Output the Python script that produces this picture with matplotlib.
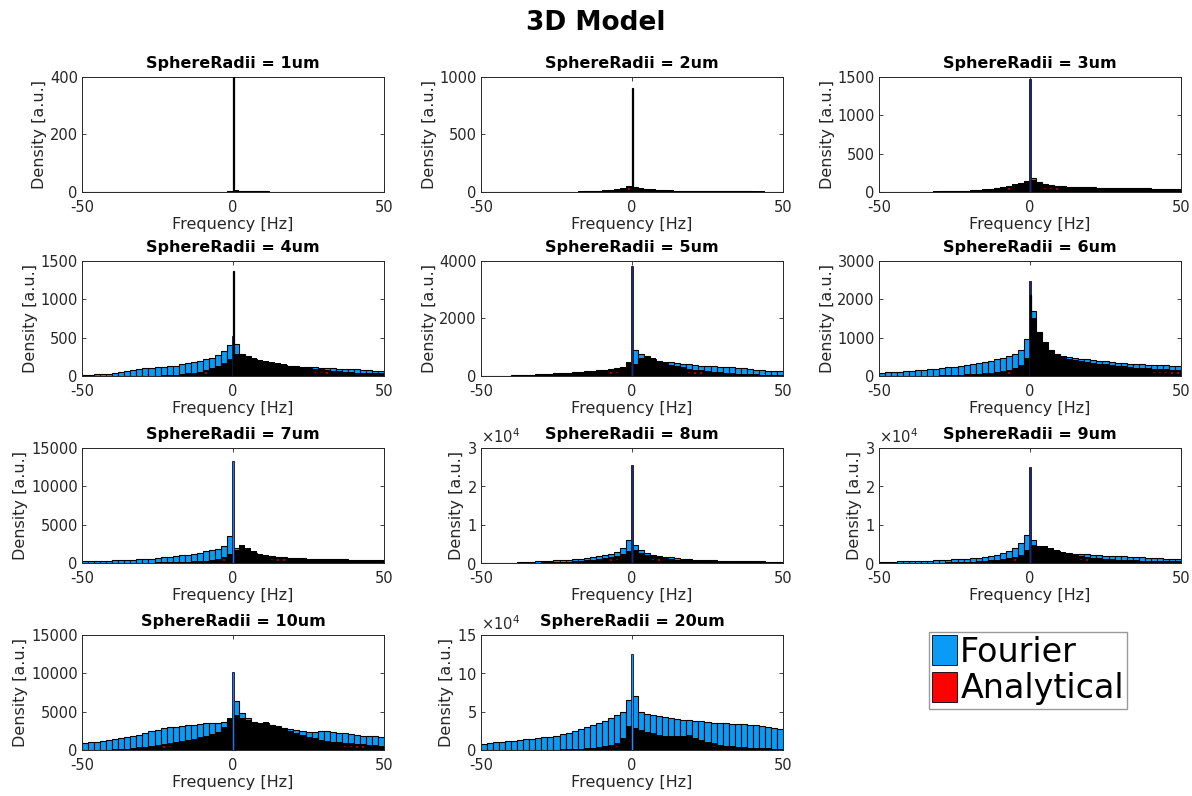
import numpy as np
import matplotlib
matplotlib.use('Agg')
import matplotlib.pyplot as plt
from matplotlib.patches import Patch

# bin centres, 2 Hz wide, from -50 to 50 Hz
centers = np.arange(-49, 50, 2)

radii = ['1um', '2um', '3um', '4um', '5um', '6um', '7um', '8um', '9um', '10um', '20um']
ymax = [400, 1000, 1500, 1500, 4000, 3000, 15000, 30000, 30000, 15000, 150000]
ystep = [200, 500, 500, 500, 2000, 1000, 5000, 10000, 10000, 5000, 50000]

# Fourier histograms (left half -49..-1, right half 1..49)
f1 = [0]*22 + [0, 0, 3] + [5, 4, 3, 3, 2, 2] + [0]*19
f2 = [0]*16 + [3, 5, 7, 9, 12, 16, 20, 28, 40] + \
     [40, 30, 24, 19, 15, 13, 11, 10, 9, 8, 8, 9, 8, 7, 7, 6, 6, 5, 5, 5, 4, 4, 2, 0, 0]
f3 = [2, 2, 2, 2, 3, 3, 4, 4, 5, 6, 7, 8, 10, 12, 15, 20, 25, 32, 40, 50, 60, 75, 95, 115, 140] + \
     [180, 130, 100, 90, 80, 75, 70, 68, 65, 62, 60, 58, 56, 55, 54, 52, 50, 50, 48, 46, 45, 44, 42, 40, 38]
f4 = [15, 18, 20, 25, 30, 40, 50, 60, 75, 90, 100, 110, 115, 120, 128, 135, 150, 165, 180, 195, 215, 240, 275, 320, 400] + \
     [420, 290, 255, 225, 200, 185, 170, 160, 148, 135, 128, 120, 115, 112, 110, 105, 100, 95, 92, 90, 85, 80, 75, 65, 60]
f5 = [0, 0, 0, 0, 10, 30, 35, 40, 45, 55, 65, 75, 90, 100, 120, 135, 150, 165, 180, 200, 220, 245, 270, 320, 420] + \
     [900, 760, 680, 600, 530, 500, 470, 450, 430, 400, 380, 360, 350, 340, 330, 320, 310, 295, 270, 240, 220, 200, 190, 180, 175]
f6 = [90, 95, 100, 110, 125, 135, 150, 165, 180, 195, 210, 230, 245, 265, 280, 300, 330, 360, 390, 430, 470, 510, 560, 680, 950] + \
     [1700, 1150, 880, 680, 580, 530, 490, 465, 445, 430, 415, 400, 385, 370, 345, 330, 320, 310, 300, 290, 285, 280, 275, 270, 265]
f7 = [200, 230, 260, 280, 300, 330, 360, 390, 420, 460, 520, 580, 650, 720, 790, 880, 980, 1090, 1200, 1300, 1500, 1700, 1880, 2150, 3500] + \
     [2000, 1900, 1600, 1300, 1100, 950, 850, 780, 720, 660, 620, 590, 570, 550, 540, 520, 500, 480, 460, 440, 420, 400, 380, 360, 350]
f8 = [0, 0, 0, 0, 0, 0, 150, 200, 300, 400, 500, 600, 700, 800, 900, 1000, 1150, 1300, 1500, 1700, 2000, 2400, 2900, 3800, 6000] + \
     [4600, 3400, 2500, 2100, 1800, 1650, 1450, 1300, 1150, 1000, 900, 820, 750, 690, 630, 590, 550, 510, 480, 450, 420, 400, 380, 360, 350]
f9 = [250, 300, 350, 400, 440, 480, 530, 580, 630, 680, 750, 830, 920, 1020, 1120, 1250, 1400, 1580, 1800, 2100, 2600, 3100, 3800, 5100, 7200] + \
     [6000, 4400, 4000, 3500, 3000, 2700, 2550, 2450, 2350, 2250, 2150, 2050, 1950, 1850, 1760, 1700, 1620, 1550, 1480, 1400, 1320, 1250, 1170, 1100, 1050]
f10 = [950, 1000, 1070, 1180, 1300, 1420, 1520, 1630, 1800, 2000, 2250, 2450, 2650, 2800, 2950, 3050, 3150, 3220, 3300, 3400, 3450, 3500, 3520, 3600, 4000] + \
      [6400, 4800, 4100, 3700, 3500, 3500, 3300, 3100, 2900, 2750, 2650, 2500, 2400, 2400, 2450, 2420, 2350, 2250, 2150, 2050, 1950, 1880, 1820, 1760, 1700]
f20 = [7800, 8500, 10000, 11000, 11800, 12300, 13000, 13700, 14500, 15500, 16500, 17500, 18500, 20500, 22500, 24500, 27500, 30500, 33000, 35500, 38000, 41000, 45000, 50000, 65000] + \
      [70000, 50000, 47000, 45500, 44000, 43000, 41500, 40500, 39500, 38800, 38000, 37200, 36400, 35700, 35200, 34800, 34400, 34200, 33800, 33000, 32000, 31000, 30000, 28500, 27000]

# Analytical histograms
a1 = [0]*23 + [1, 5] + [8, 5, 4, 4, 3, 3, 1, 0, 1, 0, 0, 0, 0, 0, 1] + [0]*10
a2 = [0, 0, 0, 0, 0, 0, 0, 0, 0, 0, 2, 0, 0, 0, 3, 4, 5, 8, 10, 12, 15, 20, 25, 35, 50] + \
     [45, 35, 28, 22, 18, 15, 13, 12, 10, 10, 9, 12, 10, 8, 8, 7, 7, 6, 6, 6, 5, 5, 2, 0, 0]
a3 = [3, 3, 3, 3, 4, 4, 5, 5, 6, 7, 8, 10, 12, 15, 18, 22, 28, 35, 42, 55, 65, 80, 100, 120, 145] + \
     [150, 115, 95, 85, 75, 70, 65, 60, 55, 52, 50, 48, 46, 45, 44, 42, 42, 40, 40, 38, 38, 36, 35, 32, 30]
a4 = [0, 0, 0, 0, 0, 0, 0, 0, 0, 0, 2, 3, 5, 8, 12, 18, 25, 35, 45, 55, 75, 100, 125, 170, 220] + \
     [280, 270, 250, 230, 205, 190, 178, 168, 150, 135, 125, 115, 105, 95, 85, 78, 70, 62, 55, 50, 45, 42, 40, 38, 35]
a5 = [0, 0, 0, 0, 0, 15, 20, 25, 30, 35, 45, 55, 65, 75, 85, 100, 115, 130, 145, 165, 185, 210, 250, 320, 480] + \
     [420, 620, 670, 610, 520, 450, 390, 340, 300, 260, 225, 200, 175, 150, 125, 110, 95, 85, 75, 65, 58, 50, 45, 40, 35]
a6 = [0, 0, 0, 0, 0, 0, 0, 5, 8, 10, 15, 20, 25, 30, 40, 50, 60, 75, 90, 105, 125, 160, 200, 290, 470] + \
     [1500, 1130, 860, 660, 540, 490, 450, 420, 390, 360, 340, 320, 300, 280, 265, 250, 235, 220, 210, 200, 195, 185, 175, 165, 160]
a7 = [0, 0, 0, 0, 0, 0, 0, 20, 30, 40, 50, 60, 70, 90, 110, 130, 160, 190, 220, 250, 320, 420, 570, 800, 1200] + \
     [1700, 2400, 1950, 1500, 1200, 1000, 880, 790, 720, 660, 610, 560, 520, 480, 450, 420, 390, 360, 340, 310, 300, 290, 280, 270, 260]
a8 = [0, 0, 0, 0, 0, 0, 0, 50, 80, 120, 160, 200, 250, 300, 380, 450, 550, 700, 850, 1050, 1250, 1500, 1800, 2300, 3200] + \
     [3400, 2700, 2100, 1700, 1450, 1250, 1050, 900, 800, 720, 650, 580, 520, 460, 400, 350, 320, 290, 260, 240, 220, 200, 190, 180, 175]
a9 = [0, 0, 0, 0, 0, 20, 40, 60, 80, 100, 130, 160, 200, 250, 300, 380, 480, 600, 720, 850, 1050, 1300, 1600, 2200, 3300] + \
     [4600, 4400, 4350, 4000, 3400, 2800, 2350, 2000, 1750, 1550, 1350, 1200, 1080, 980, 900, 820, 750, 680, 620, 570, 520, 490, 470, 450, 440]
a10 = [5, 10, 20, 30, 50, 80, 120, 170, 250, 350, 450, 550, 650, 750, 850, 1000, 1150, 1300, 1450, 1650, 1850, 2100, 2400, 3000, 4200] + \
      [4500, 4200, 3900, 3700, 3550, 3600, 3300, 3000, 2750, 2500, 2250, 2000, 1750, 1550, 1350, 1200, 1080, 980, 900, 850, 800, 750, 680, 620, 560]
a20 = [0, 0, 0, 0, 0, 0, 0, 0, 0, 100, 200, 300, 500, 700, 900, 1300, 1800, 2400, 3000, 3800, 5000, 7000, 9500, 15000, 31000] + \
      [29000, 26000, 23500, 21500, 19800, 18800, 18200, 18000, 18600, 19000, 16000, 12500, 10500, 8500, 7000, 5800, 4800, 4200, 3500, 3000, 2700, 2400, 2100, 1900, 1700]

fourier = [f1, f2, f3, f4, f5, f6, f7, f8, f9, f10, f20]
analytical = [a1, a2, a3, a4, a5, a6, a7, a8, a9, a10, a20]

# the narrow peak right at 0 Hz
spike_f = [0, 0, 1470, 520, 3800, 2480, 13300, 25500, 24900, 10200, 125000]
spike_a = [400, 900, 0, 1370, 0, 2100, 0, 0, 0, 0, 0]

blue = '#0a9cf5'
red = '#ff0000'
gray = '#262626'
navy = '#1a2a6a'
spike_col = [navy, navy, navy, blue, navy, navy, '#1f78c8', navy, navy, '#1f78c8', blue]

plt.rcParams['font.family'] = 'DejaVu Sans'
plt.rcParams['axes.unicode_minus'] = False
fig = plt.figure(figsize=(11.92, 7.96), dpi=100)

lefts = [0.0688, 0.4035, 0.7374]
bottoms = [0.7588, 0.5276, 0.2927, 0.0578]

for k in range(11):
    row, col = divmod(k, 3)
    ax = fig.add_axes([lefts[col], bottoms[row], 0.2534, 0.145])

    f = np.array(fourier[k])
    a = np.array(analytical[k])
    ax.bar(centers, f, width=2, color=blue, edgecolor='black', linewidth=0.8, zorder=2)
    if spike_f[k] > 0:
        ax.bar(0, spike_f[k], width=0.9, color=spike_col[k], edgecolor='#101040',
               linewidth=0.6, zorder=3.5)
    # analytical bins are dense in the original, so their black edges hide the red face;
    # thick edges clipped to each bar give the same look without spilling over the top
    m = a > 0
    bars = ax.bar(centers[m], a[m], width=2, color=red, edgecolor='black', linewidth=5.5, zorder=3)
    for b in bars:
        b.set_clip_path(b)
    if spike_a[k] > 0:
        ax.bar(0.3, spike_a[k], width=0.3, color=red, edgecolor='black', linewidth=0.9, zorder=4)

    ax.set_xlim(-50, 50)
    ax.set_ylim(0, ymax[k])
    ax.set_xticks([-50, 0, 50])
    ax.set_yticks(np.arange(0, ymax[k] + 1, ystep[k]))
    if ymax[k] >= 30000:
        ax.ticklabel_format(axis='y', style='sci', scilimits=(4, 4), useMathText=True)
        ax.yaxis.get_offset_text().set_fontsize(10.5)
        ax.yaxis.get_offset_text().set_color(gray)
    ax.tick_params(direction='in', top=True, right=True, length=3, width=0.6,
                   labelsize=10.5, colors=gray)
    ax.tick_params(axis='x', pad=6)
    ax.tick_params(axis='y', pad=3)
    for s in ax.spines.values():
        s.set_color(gray)
        s.set_linewidth(0.7)
    ax.set_title('SphereRadii = ' + radii[k], fontsize=11.5, fontweight='bold', pad=6)
    ax.set_xlabel('Frequency [Hz]', fontsize=11.5, color=gray, labelpad=1)
    ax.set_ylabel('Density [a.u.]', fontsize=11.5, color=gray, labelpad=2)

fig.suptitle('3D Model', fontsize=19, fontweight='bold', y=0.988, va='top')

handles = [Patch(facecolor=blue, edgecolor='black', linewidth=0.6),
           Patch(facecolor=red, edgecolor='black', linewidth=0.6)]
leg = fig.legend(handles, ['Fourier', 'Analytical'], loc='upper left',
                 bbox_to_anchor=(0.779, 0.206), fontsize=24, frameon=True, fancybox=False,
                 handlelength=0.75, handleheight=1.0, handletextpad=0.1,
                 borderpad=0.1, labelspacing=0.1, borderaxespad=0)
leg.get_frame().set_edgecolor('#808080')
leg.get_frame().set_linewidth(1.0)

fig.savefig('out.png', dpi=100)
